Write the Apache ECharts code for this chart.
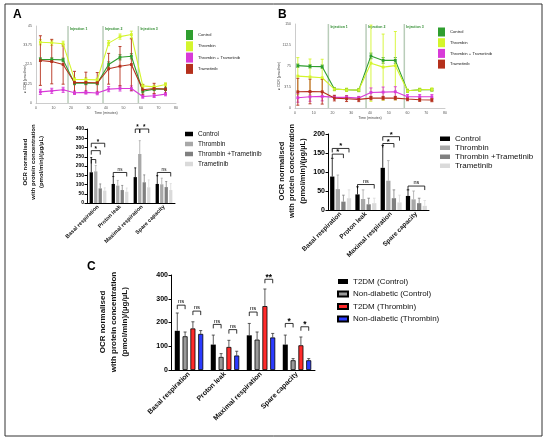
<!DOCTYPE html>
<html>
<head>
<meta charset="utf-8">
<script src="https://cdn.jsdelivr.net/npm/echarts@6.0.0/dist/echarts.min.js"></script>
<style>
  html, body { margin: 0; padding: 0; background: #fff; }
  #chart { width: 550px; height: 441px; }
</style>
</head>
<body>
<div id="chart"></div>
<script>
// ---- panel A / B time courses (OCR, pmol/min) ----
const timeA = [2.5, 9, 15.5, 22, 28.5, 35, 41.5, 48, 54.5, 61, 67.5, 74];
const timeB = [1.5, 8, 14.5, 21, 27.5, 34, 40.5, 47, 53.5, 60, 66.5, 73];
const injectA = [18.3, 38.3, 58.5];
const injectB = [17.8, 37.9, 58.3];

const ocrAControl = [25.4, 25.4, 25.2, 11.5, 11.5, 11.5, 22.5, 26.7, 27.3, 6.9, 8.1, 8.1];
const ocrAThrombin = [35.5, 35.2, 34.6, 13.8, 13.7, 13.5, 35, 38.8, 40, 10, 9.4, 10.8];
const ocrAThrTram = [6.5, 7.1, 7.7, 6, 6.2, 5.8, 8.1, 8.5, 8.5, 3.8, 4.2, 5.2];
const ocrATram = [24.8, 24.2, 22.5, 12, 12, 11.8, 20, 21.5, 22.5, 7.7, 8.5, 8.1];
const errAControl = [1, 1, 1, 0.8, 0.8, 0.8, 1.5, 1.5, 1.5, 1, 0.8, 0.8];
const errAThrombin = [1.5, 1.5, 1.5, 1, 1, 1, 1.5, 1.5, 2, 1, 1, 1];
const errAThrTram = [1.5, 1.5, 1.5, 1, 1, 1, 1.5, 1.5, 1.5, 1, 1, 1];
const errATram = [14.5, 13, 11.5, 6.5, 6, 6, 9, 11.5, 15, 3, 3, 3];

const ocrBControl = [75.6, 74.4, 73.8, 34, 32.5, 32, 93, 85, 85, 30.7, 32.5, 32.5];
const ocrBThrombin = [57, 55.5, 54, 33.7, 32.5, 32, 80, 73, 75.6, 30.7, 32.5, 33];
const ocrBThrTram = [18.3, 20, 20.7, 19, 19, 17.7, 27.8, 28.4, 29, 20, 20, 20];
const ocrBTram = [29, 29.5, 29, 17.7, 16.5, 15.4, 17.7, 17.7, 17.7, 16, 14.8, 14.2];
const errBControl = [3, 3, 3, 2, 2, 2, 5, 5, 5, 2, 2, 2];
const errBThrombin = [33, 32, 33, 3, 3, 3, 68, 59, 61, 3, 3, 3];
const errBThrTram = [8, 8, 8, 3, 3, 3, 8, 9, 9, 4, 4, 4];
const errBTram = [24, 22, 22, 5, 5, 4, 3, 3, 3, 3, 3, 3];

const lineNames = ['Control', 'Thrombin', 'Thrombin + Trametinib', 'Trametinib'];

// ---- bar panels ----
const cats = ['Basal respiration', 'Proton leak', 'Maximal respiration', 'Spare capacity'];
const barNamesAB = ['Control', 'Thrombin', 'Thrombin +Trametinib', 'Trametinib'];
const barNamesC = ['T2DM (Control)', 'Non-diabetic (Control)', 'T2DM (Thrombin)', 'Non-diabetic (Thrombin)'];

const aControl = [166, 103, 140, 103];
const aThrombin = [171, 94, 265, 101];
const aThrTram = [79, 70, 112, 86];
const aTram = [67, 61, 85, 70];
const aControlSd = [80, 40, 50, 45];
const aThrombinSd = [32, 28, 72, 33];
const aThrTramSd = [24, 25, 40, 30];
const aTramSd = [15, 20, 40, 35];

const bControl = [88, 41, 111, 37];
const bThrombin = [55, 29, 77, 28];
const bThrTram = [22, 15, 31, 18];
const bTram = [31, 18, 20, 11];
const bControlSd = [48, 20, 59, 16];
const bThrombinSd = [37, 24, 53, 22];
const bThrTramSd = [17, 16, 22, 13];
const bTramSd = [22, 13, 19, 14];

const cT2Ctrl = [165, 107, 146, 107];
const cNdCtrl = [142, 55, 128, 41];
const cT2Thr = [175, 97, 269, 104];
const cNdThr = [152, 61, 137, 41];
const cT2CtrlSd = [75, 40, 50, 40];
const cNdCtrlSd = [18, 14, 32, 7];
const cT2ThrSd = [28, 28, 72, 35];
const cNdThrSd = [14, 18, 17, 7];

// significance brackets: [category, from bar, to bar, height, label]
const bracketsA = [[0, 0, 1, 235, ''], [0, 0, 2, 283, '*'], [0, 0, 3, 323, '*'], [1, 0, 3, 165, 'ns'],
  [2, 0, 1, 400, '*'], [2, 1, 3, 400, '*'], [3, 0, 3, 165, 'ns']];
const bracketsB = [[0, 0, 2, 147, '*'], [0, 0, 3, 162, '*'], [1, 0, 3, 67, 'ns'],
  [2, 0, 2, 175, '*'], [2, 0, 3, 193, '*'], [3, 0, 3, 63, 'ns']];
const bracketsC = [[0, 0, 1, 273, 'ns'], [0, 2, 3, 248, 'ns'], [1, 0, 1, 192, 'ns'], [1, 2, 3, 170, 'ns'],
  [2, 0, 1, 244, 'ns'], [2, 2, 3, 382, '**'], [3, 0, 1, 196, '*'], [3, 2, 3, 182, '*']];

const lineColors = ['#2f9e2f', '#d4f52c', '#d83ad8', '#b5301c'];
const barColorsAB = ['#000000', '#a8a8a8', '#808080', '#dadada'];
const barColorsC = ['#000000', '#9a9a9a', '#ff2b2b', '#2b3bff'];
const FONT = 'Liberation Sans, Arial, sans-serif';

const chart = echarts.init(document.getElementById('chart'), null, { renderer: 'canvas' });
const strip = n => n.split('|')[1];

// error bars on the time courses
function errLine(color) {
  return function (params, api) {
    const t = api.value(0), m = api.value(1), e = api.value(2);
    const top = api.coord([t, m + e]);
    const bot = api.coord([t, Math.max(m - e, 0)]);
    const st = { stroke: color, lineWidth: 0.9 };
    return { type: 'group', children: [
      { type: 'line', shape: { x1: top[0], y1: top[1], x2: bot[0], y2: bot[1] }, style: st },
      { type: 'line', shape: { x1: top[0] - 1.5, y1: top[1], x2: top[0] + 1.5, y2: top[1] }, style: st },
      { type: 'line', shape: { x1: bot[0] - 1.5, y1: bot[1], x2: bot[0] + 1.5, y2: bot[1] }, style: st }
    ] };
  };
}

function injectRender(ymax) {
  return function (params, api) {
    const t = api.value(0);
    const b = api.coord([t, 0]), tp = api.coord([t, ymax]);
    return { type: 'group', children: [
      { type: 'line', shape: { x1: b[0], y1: b[1], x2: tp[0], y2: tp[1] }, style: { stroke: '#b9cdb9', lineWidth: 1.5 } },
      { type: 'text', style: { text: 'Injection ' + (params.dataIndex + 1), x: tp[0] + 2, y: tp[1] + 1.5,
        fontSize: 3.5, fontWeight: 'bold', fill: '#2e8b2e', fontFamily: FONT } }
    ] };
  };
}

function lineSeries(g, times, vals, errs, inject, ymax) {
  const out = [];
  out.push({ type: 'custom', xAxisIndex: g, yAxisIndex: g, data: inject.map(t => [t, 0]),
    encode: { x: 0, y: 1 }, renderItem: injectRender(ymax), z: 1, silent: true });
  vals.forEach((v, i) => {
    out.push({ type: 'custom', xAxisIndex: g, yAxisIndex: g, data: times.map((t, k) => [t, v[k], errs[i][k]]),
      encode: { x: 0, y: 1 }, renderItem: errLine(lineColors[i]), z: 2, silent: true });
    out.push({ type: 'line', name: 'L|' + lineNames[i], xAxisIndex: g, yAxisIndex: g,
      data: times.map((t, k) => [t, v[k]]), symbol: 'rect', symbolSize: 2.8,
      lineStyle: { width: 1.1, color: lineColors[i] }, itemStyle: { color: lineColors[i] }, z: 3, silent: true });
  });
  return out;
}

function slotX(api, cat, slot, lay) {
  const band = api.size([1, 0])[0];
  const w = band * lay.w;
  return api.coord([cat, 0])[0] + (slot - 1.5) * w * (1 + lay.gap);
}

function barErrRender(lay, colors) {
  return function (params, api) {
    const cat = api.value(0), slot = api.value(1), m = api.value(2), sd = api.value(3);
    const x = slotX(api, cat, slot, lay);
    const y0 = api.coord([cat, m])[1], y1 = api.coord([cat, m + sd])[1];
    const cap = api.size([1, 0])[0] * lay.w * 0.3;
    const st = { stroke: colors[slot], lineWidth: 0.8 };
    return { type: 'group', children: [
      { type: 'line', shape: { x1: x, y1: y0, x2: x, y2: y1 }, style: st },
      { type: 'line', shape: { x1: x - cap, y1: y1, x2: x + cap, y2: y1 }, style: st }
    ] };
  };
}

function bracketRender(list, lay, fs) {
  return function (params, api) {
    const b = list[params.dataIndex];
    const xa = slotX(api, b[0], b[1], lay), xb = slotX(api, b[0], b[2], lay);
    const y = api.coord([b[0], b[3]])[1];
    const tick = 4;
    const star = b[4].indexOf('*') >= 0;
    return { type: 'group', children: [
      { type: 'polyline', shape: { points: [[xa, y + tick], [xa, y], [xb, y], [xb, y + tick]] },
        style: { stroke: '#000', lineWidth: 0.8, fill: null } },
      { type: 'text', style: { text: b[4], x: (xa + xb) / 2, y: star ? y + fs * 0.35 : y - 0.5,
        textAlign: 'center', textVerticalAlign: 'bottom', fontSize: star ? fs * 1.4 : fs,
        fontWeight: star ? 'bold' : 'normal', fill: '#000', fontFamily: FONT } }
    ] };
  };
}

function barSeries(g, prefix, names, colors, vals, sds, lay, brackets, fs, errColors, border) {
  const out = [];
  vals.forEach((v, i) => {
    out.push({ type: 'bar', name: prefix + names[i], xAxisIndex: g, yAxisIndex: g, data: v,
      barWidth: (lay.w * 100) + '%', barGap: (lay.gap * 100) + '%',
      itemStyle: { color: colors[i], borderColor: '#000', borderWidth: border && i > 0 ? 0.8 : 0 },
      silent: true, z: 2 });
  });
  const errData = [];
  vals.forEach((v, i) => v.forEach((m, j) => errData.push([j, i, m, sds[i][j]])));
  out.push({ type: 'custom', xAxisIndex: g, yAxisIndex: g, data: errData, encode: { x: 0, y: 2 },
    renderItem: barErrRender(lay, errColors), z: 1, silent: true });
  out.push({ type: 'custom', xAxisIndex: g, yAxisIndex: g, data: brackets.map(b => [b[0], b[3]]),
    encode: { x: 0, y: 1 }, renderItem: bracketRender(brackets, lay, fs), z: 4, silent: true });
  return out;
}

const layA = { w: 0.15, gap: 0.36 };
const layB = { w: 0.17, gap: 0.3 };
const layC = { w: 0.14, gap: 0.55 };

function timeX(g) {
  return { type: 'value', gridIndex: g, min: 0, max: 80, interval: 10,
    name: 'Time (minutes)', nameLocation: 'middle', nameGap: 7,
    nameTextStyle: { fontSize: 3.5, color: '#444', fontFamily: FONT },
    axisLine: { lineStyle: { color: '#aaa', width: 0.6 } }, axisTick: { show: false },
    axisLabel: { fontSize: 3.5, color: '#555', margin: 3, fontFamily: FONT }, splitLine: { show: false } };
}
function ocrY(g, max, step) {
  return { type: 'value', gridIndex: g, min: 0, max: max, interval: step,
    axisLine: { show: true, lineStyle: { color: '#aaa', width: 0.6 } }, axisTick: { show: false },
    axisLabel: { fontSize: 3.5, color: '#555', margin: 4, fontFamily: FONT }, splitLine: { show: false } };
}
function catX(g, fs) {
  return { type: 'category', gridIndex: g, data: cats,
    axisLine: { lineStyle: { color: '#000', width: 1 } },
    axisTick: { alignWithLabel: true, length: 2.5, lineStyle: { color: '#000' } },
    axisLabel: { rotate: 45, fontSize: fs, fontWeight: 'bold', color: '#111', margin: 3, interval: 0, fontFamily: FONT } };
}
function barY(g, max, step, fs) {
  return { type: 'value', gridIndex: g, min: 0, max: max, interval: step,
    axisLine: { show: true, lineStyle: { color: '#000', width: 1 } },
    axisTick: { show: true, length: 2.5, lineStyle: { color: '#000' } },
    axisLabel: { fontSize: fs, fontWeight: 'bold', color: '#000', margin: 3, fontFamily: FONT }, splitLine: { show: false } };
}

function yTitle(x, y, fs, lh) {
  return { type: 'text', x: x, y: y, rotation: Math.PI / 2,
    style: { text: 'OCR normalised\nwith protein concentration\n(pmol/min)/(µg/µL)', textAlign: 'center',
      textVerticalAlign: 'middle', fontSize: fs, lineHeight: lh, fontWeight: 'bold', fill: '#111', fontFamily: FONT } };
}

const series = [].concat(
  lineSeries(0, timeA, [ocrAControl, ocrAThrombin, ocrAThrTram, ocrATram],
    [errAControl, errAThrombin, errAThrTram, errATram], injectA, 45),
  lineSeries(1, timeB, [ocrBControl, ocrBThrombin, ocrBThrTram, ocrBTram],
    [errBControl, errBThrombin, errBThrTram, errBTram], injectB, 150),
  barSeries(2, 'B|', barNamesAB, barColorsAB, [aControl, aThrombin, aThrTram, aTram],
    [aControlSd, aThrombinSd, aThrTramSd, aTramSd], layA, bracketsA, 4.5, barColorsAB, false),
  barSeries(3, 'B|', barNamesAB, barColorsAB, [bControl, bThrombin, bThrTram, bTram],
    [bControlSd, bThrombinSd, bThrTramSd, bTramSd], layB, bracketsB, 5.5, barColorsAB, false),
  barSeries(4, 'C|', barNamesC, barColorsC, [cT2Ctrl, cNdCtrl, cT2Thr, cNdThr],
    [cT2CtrlSd, cNdCtrlSd, cT2ThrSd, cNdThrSd], layC, bracketsC, 6, ['#333', '#333', '#333', '#333'], true)
);

const legendBase = { orient: 'vertical', icon: 'rect', padding: 0, selectedMode: false, formatter: strip };

chart.setOption({
  animation: false,
  backgroundColor: '#fff',
  grid: [
    { left: 36, top: 26, width: 140, height: 77, outerBoundsMode: 'none' },
    { left: 295, top: 24, width: 150, height: 84, outerBoundsMode: 'none' },
    { left: 87, top: 129, width: 88, height: 74, outerBoundsMode: 'none' },
    { left: 328, top: 134, width: 101, height: 76, outerBoundsMode: 'none' },
    { left: 171, top: 275, width: 144, height: 95, outerBoundsMode: 'none' }
  ],
  xAxis: [timeX(0), timeX(1), catX(2, 5.5), catX(3, 6.5), catX(4, 7)],
  yAxis: [ocrY(0, 45, 11.25), ocrY(1, 150, 37.5), barY(2, 400, 50, 5), barY(3, 200, 50, 7), barY(4, 400, 100, 7)],
  legend: [
    Object.assign({}, legendBase, { left: 186, top: 30, itemWidth: 7, itemHeight: 10, itemGap: 1.3,
      textStyle: { fontSize: 4.2, color: '#222', fontFamily: FONT }, data: lineNames.map(n => 'L|' + n) }),
    Object.assign({}, legendBase, { left: 438, top: 27.5, itemWidth: 7, itemHeight: 9, itemGap: 1.7,
      textStyle: { fontSize: 4.2, color: '#222', fontFamily: FONT }, data: lineNames.map(n => 'L|' + n) }),
    Object.assign({}, legendBase, { left: 185, top: 130, itemWidth: 8, itemHeight: 4.5, itemGap: 2,
      textStyle: { fontSize: 6.5, lineHeight: 8, color: '#111', fontFamily: FONT }, data: barNamesAB.map(n => 'B|' + n) }),
    Object.assign({}, legendBase, { left: 440, top: 134.5, itemWidth: 10, itemHeight: 4.5, itemGap: 0.5,
      textStyle: { fontSize: 8, lineHeight: 8.5, color: '#111', fontFamily: FONT }, data: barNamesAB.map(n => 'B|' + n) }),
    Object.assign({}, legendBase, { left: 337, top: 277, itemWidth: 10, itemHeight: 5, itemGap: 3.5,
      textStyle: { fontSize: 8, lineHeight: 9, color: '#111', fontFamily: FONT }, data: barNamesC.map(n => 'C|' + n) })
  ],
  graphic: [
    { type: 'rect', shape: { x: 5, y: 4, width: 537, height: 432 }, style: { fill: null, stroke: '#333', lineWidth: 1 }, silent: true },
    { type: 'text', x: 13, y: 9, style: { text: 'A', fontSize: 12, fontWeight: 'bold', fill: '#000', fontFamily: FONT } },
    { type: 'text', x: 278, y: 9, style: { text: 'B', fontSize: 12, fontWeight: 'bold', fill: '#000', fontFamily: FONT } },
    { type: 'text', x: 87, y: 261, style: { text: 'C', fontSize: 12, fontWeight: 'bold', fill: '#000', fontFamily: FONT } },
    { type: 'text', x: 25, y: 79, rotation: Math.PI / 2,
      style: { text: '● OCR (pmol/min)', textAlign: 'center', textVerticalAlign: 'middle', fontSize: 3.5, fill: '#444', fontFamily: FONT } },
    { type: 'text', x: 279, y: 76, rotation: Math.PI / 2,
      style: { text: '● OCR (pmol/min)', textAlign: 'center', textVerticalAlign: 'middle', fontSize: 3.5, fill: '#444', fontFamily: FONT } },
    yTitle(33.5, 162, 6, 8.3),
    yTitle(292, 171, 7.5, 10.5),
    yTitle(114, 322, 8, 11)
  ],
  series: series
});
</script>
</body>
</html>
